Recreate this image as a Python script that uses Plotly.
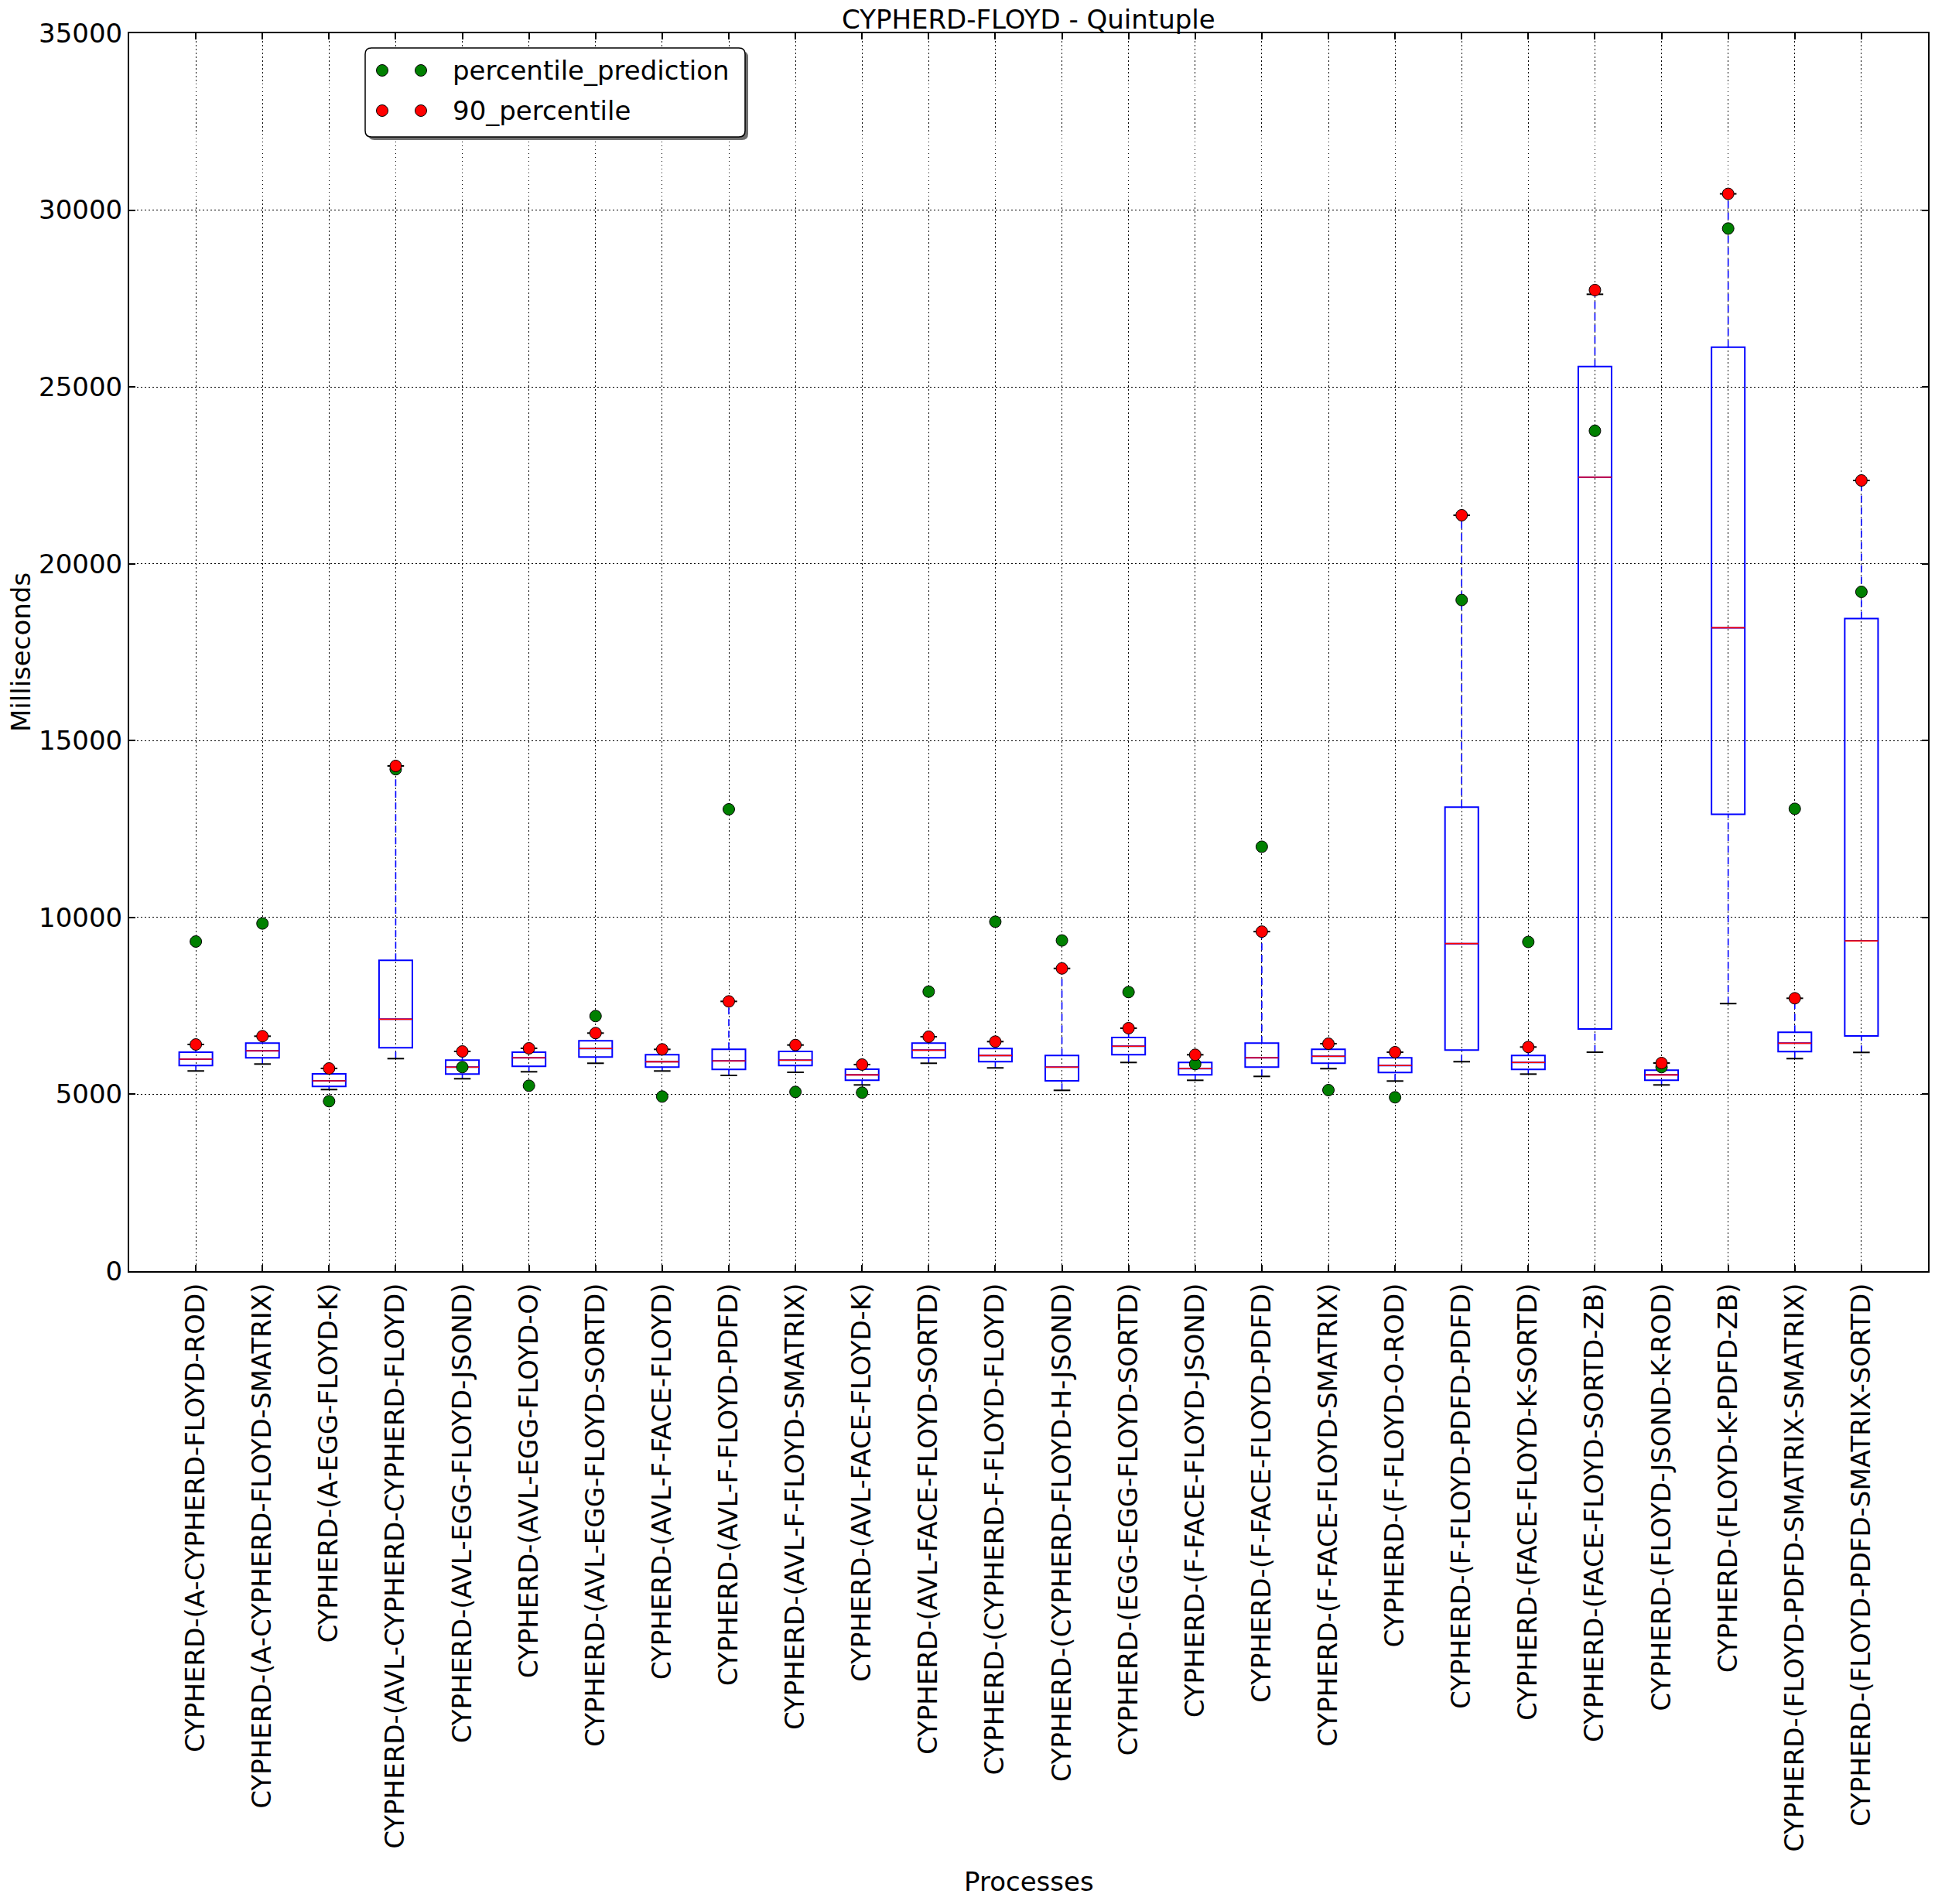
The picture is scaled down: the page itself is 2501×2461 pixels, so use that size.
import plotly.graph_objects as go

categories = [
    "CYPHERD-(A-CYPHERD-FLOYD-ROD)",
    "CYPHERD-(A-CYPHERD-FLOYD-SMATRIX)",
    "CYPHERD-(A-EGG-FLOYD-K)",
    "CYPHERD-(AVL-CYPHERD-CYPHERD-FLOYD)",
    "CYPHERD-(AVL-EGG-FLOYD-JSOND)",
    "CYPHERD-(AVL-EGG-FLOYD-O)",
    "CYPHERD-(AVL-EGG-FLOYD-SORTD)",
    "CYPHERD-(AVL-F-FACE-FLOYD)",
    "CYPHERD-(AVL-F-FLOYD-PDFD)",
    "CYPHERD-(AVL-F-FLOYD-SMATRIX)",
    "CYPHERD-(AVL-FACE-FLOYD-K)",
    "CYPHERD-(AVL-FACE-FLOYD-SORTD)",
    "CYPHERD-(CYPHERD-F-FLOYD-FLOYD)",
    "CYPHERD-(CYPHERD-FLOYD-H-JSOND)",
    "CYPHERD-(EGG-EGG-FLOYD-SORTD)",
    "CYPHERD-(F-FACE-FLOYD-JSOND)",
    "CYPHERD-(F-FACE-FLOYD-PDFD)",
    "CYPHERD-(F-FACE-FLOYD-SMATRIX)",
    "CYPHERD-(F-FLOYD-O-ROD)",
    "CYPHERD-(F-FLOYD-PDFD-PDFD)",
    "CYPHERD-(FACE-FLOYD-K-SORTD)",
    "CYPHERD-(FACE-FLOYD-SORTD-ZB)",
    "CYPHERD-(FLOYD-JSOND-K-ROD)",
    "CYPHERD-(FLOYD-K-PDFD-ZB)",
    "CYPHERD-(FLOYD-PDFD-SMATRIX-SMATRIX)",
    "CYPHERD-(FLOYD-PDFD-SMATRIX-SORTD)",
]

whisker_low = [5660, 5856, 5134, 6009, 5440, 5637, 5878, 5659, 5534, 5622, 5265, 5878, 5747,
               5112, 5900, 5396, 5506, 5725, 5375, 5922, 5571, 6190, 5265, 7565, 6009, 6184]
q1 = [5812, 6031, 5221, 6315, 5571, 5790, 6053, 5768, 5703, 5812, 5396, 6031, 5921,
      5381, 6118, 5549, 5768, 5878, 5615, 6249, 5703, 6845, 5396, 12919, 6206, 6650]
median = [5994, 6228, 5381, 7124, 5768, 6031, 6293, 5921, 5943, 5965, 5549, 6249, 6096,
          5768, 6359, 5725, 6031, 6075, 5812, 9261, 5900, 22449, 5549, 18191, 6446, 9338]
q3 = [6191, 6446, 5578, 8787, 5965, 6191, 6512, 6118, 6275, 6212, 5709, 6446, 6293,
      6096, 6606, 5900, 6446, 6271, 6031, 13119, 6096, 25580, 5681, 26122, 6753, 18452]
whisker_high = [6409, 6643, 5731, 14284, 6212, 6300, 6731, 6271, 7627, 6394, 5841, 6628, 6490,
                8559, 6869, 6118, 9600, 6431, 6191, 21373, 6337, 27620, 5884, 30460, 7715, 22356]
percentile_90 = [6409, 6643, 5731, 14284, 6212, 6300, 6731, 6271, 7627, 6394, 5841, 6628, 6490,
                 8559, 6869, 6118, 9600, 6431, 6191, 21373, 6337, 27740, 5884, 30460, 7715, 22356]
percentile_prediction = [9320, 9830, 4805, 14190, 5768, 5243, 7212, 4937, 13059, 5068, 5047, 7904, 9880,
                         9350, 7890, 5856, 12000, 5119, 4915, 18975, 9308, 23760, 5768, 29480, 13073, 19206]
y_ticks = [0, 5000, 10000, 15000, 20000, 25000, 30000, 35000]
legend_names = ["percentile_prediction", "90_percentile"]
legend_colors = ["#008000", "#ff0000"]

positions = list(range(1, len(categories) + 1))
BOX_W = 0.5
CAP_HALF = 0.125
FONT = "DejaVu Sans"
MS = 15

fig = go.Figure()

fig.add_trace(go.Box(
    x=positions, q1=q1, median=median, q3=q3,
    lowerfence=q1, upperfence=q3,
    width=BOX_W, whiskerwidth=0, boxpoints=False,
    line=dict(color="#0000ff", width=2), fillcolor="rgba(255,255,255,0)",
    showlegend=False, hoverinfo="skip",
))

wx, wy = [], []
for p, lo, a, b, hi in zip(positions, whisker_low, q1, q3, whisker_high):
    wx += [p, p, None, p, p, None]
    wy += [lo, a, None, b, hi, None]
fig.add_trace(go.Scatter(x=wx, y=wy, mode="lines", line=dict(color="#0000ff", width=1.6, dash="9px,6px"),
                         showlegend=False, hoverinfo="skip"))

cx, cy = [], []
for p, lo, hi in zip(positions, whisker_low, whisker_high):
    cx += [p - CAP_HALF, p + CAP_HALF, None, p - CAP_HALF, p + CAP_HALF, None]
    cy += [lo, lo, None, hi, hi, None]
fig.add_trace(go.Scatter(x=cx, y=cy, mode="lines", line=dict(color="black", width=2),
                         showlegend=False, hoverinfo="skip"))

mx, my = [], []
for p, m in zip(positions, median):
    mx += [p - BOX_W / 2, p + BOX_W / 2, None]
    my += [m, m, None]
fig.add_trace(go.Scatter(x=mx, y=my, mode="lines", line=dict(color="#ff0000", width=1.6),
                         showlegend=False, hoverinfo="skip"))

fig.add_trace(go.Scatter(x=positions, y=percentile_prediction, mode="markers", name=legend_names[0],
                         marker=dict(color=legend_colors[0], size=MS, line=dict(color="black", width=1)),
                         showlegend=False))
fig.add_trace(go.Scatter(x=positions, y=percentile_90, mode="markers", name=legend_names[1],
                         marker=dict(color=legend_colors[1], size=MS, line=dict(color="black", width=1)),
                         showlegend=False))

# body margin is removed by post_script below, so figure pixels == window pixels
W, H = 2501, 2461
PL, PR, PT, PB = 167, 2492, 43, 1643   # plot area in pixels
L, R, T, B = PL, W - PR, PT, H - PB
pw, ph = PR - PL, PB - PT

def px_x(x):
    return (x - PL) / pw

def px_y(y):
    return (PB - y) / ph

axis_common = dict(
    showline=True, linecolor="black", linewidth=2, mirror="ticks",
    ticks="inside", ticklen=8, tickwidth=1.5, tickcolor="black",
    showgrid=True, gridcolor="#000000", gridwidth=1, griddash="1.5px,3.5px",
    zeroline=False, tickfont=dict(family=FONT, size=34, color="black"),
)

fig.update_xaxes(range=[0, len(categories) + 1], tickmode="array", tickvals=positions,
                 ticktext=categories, tickangle=-90, **axis_common)
fig.update_yaxes(range=[0, 35000], tickmode="array", tickvals=y_ticks,
                 ticktext=[str(v) for v in y_ticks], **axis_common)

# matplotlib-style legend (rounded box with shadow, two markers per entry)
LX0, LX1, LY0, LY1 = 472, 963, 62, 177
RAD = 8

def rounded_path(x0, x1, y0, y1, r):
    X = lambda v: px_x(v)
    Y = lambda v: px_y(v)
    return (f"M {X(x0 + r)} {Y(y0)} L {X(x1 - r)} {Y(y0)} Q {X(x1)} {Y(y0)} {X(x1)} {Y(y0 + r)} "
            f"L {X(x1)} {Y(y1 - r)} Q {X(x1)} {Y(y1)} {X(x1 - r)} {Y(y1)} "
            f"L {X(x0 + r)} {Y(y1)} Q {X(x0)} {Y(y1)} {X(x0)} {Y(y1 - r)} "
            f"L {X(x0)} {Y(y0 + r)} Q {X(x0)} {Y(y0)} {X(x0 + r)} {Y(y0)} Z")

shapes = [
    dict(type="path", xref="paper", yref="paper", layer="above",
         path=rounded_path(LX0 + 4, LX1 + 4, LY0 + 4, LY1 + 4, RAD),
         fillcolor="#6e6e6e", line=dict(width=0)),
    dict(type="path", xref="paper", yref="paper", layer="above",
         path=rounded_path(LX0, LX1, LY0, LY1, RAD),
         fillcolor="white", line=dict(color="black", width=1.5)),
]
annotations = []
entry_y = [91, 143]
marker_x = [494, 544]
for name, col, ey in zip(legend_names, legend_colors, entry_y):
    for mxp in marker_x:
        shapes.append(dict(type="circle", xref="paper", yref="paper", layer="above",
                           xsizemode="pixel", ysizemode="pixel",
                           xanchor=px_x(mxp), yanchor=px_y(ey),
                           x0=-MS / 2, x1=MS / 2, y0=-MS / 2, y1=MS / 2,
                           fillcolor=col, line=dict(color="black", width=1)))
    annotations.append(dict(text=name, x=px_x(583), y=px_y(ey), xref="paper", yref="paper",
                            xanchor="left", yanchor="middle", showarrow=False,
                            font=dict(family=FONT, size=34, color="black")))

annotations += [
    dict(text="CYPHERD-FLOYD - Quintuple", x=0.5, y=px_y(25), xref="paper", yref="paper",
         xanchor="center", yanchor="middle", showarrow=False, font=dict(family=FONT, size=34)),
    dict(text="Processes", x=0.5, y=px_y(2432), xref="paper", yref="paper",
         xanchor="center", yanchor="middle", showarrow=False, font=dict(family=FONT, size=34)),
    dict(text="Milliseconds", x=px_x(27), y=0.5, xref="paper", yref="paper", textangle=-90,
         xanchor="center", yanchor="middle", showarrow=False, font=dict(family=FONT, size=34)),
]

fig.update_layout(
    width=W, height=H,
    margin=dict(l=L, r=R, t=T, b=B, autoexpand=False),
    paper_bgcolor="white", plot_bgcolor="white",
    font=dict(family=FONT, size=34, color="black"),
    showlegend=False,
    annotations=annotations,
    shapes=shapes,
)

fig.write_html("out.html", config={"displayModeBar": False},
               post_script="document.body.style.margin='0px'; document.body.style.overflow='hidden';")
